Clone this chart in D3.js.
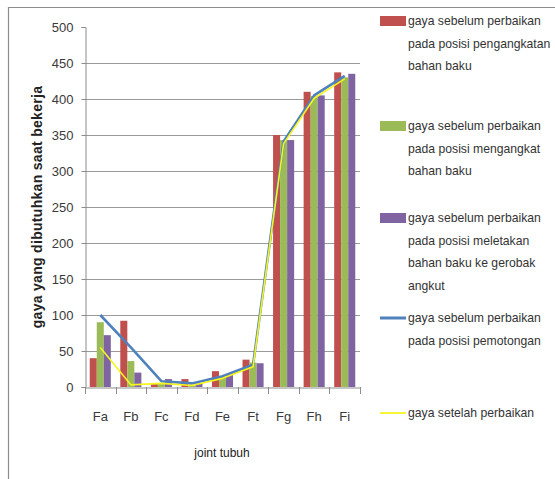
<!DOCTYPE html>
<html>
<head>
<meta charset="utf-8">
<script src="https://cdn.jsdelivr.net/npm/d3@7"></script>
<style>
  html, body { margin: 0; padding: 0; background: #fff; }
  svg { display: block; }
  text { font-family: "Liberation Sans", Arial, sans-serif; }
</style>
</head>
<body>
<svg id="chart" width="555" height="479"></svg>
<script>
const categories = ["Fa", "Fb", "Fc", "Fd", "Fe", "Ft", "Fg", "Fh", "Fi"];
const yTicks = [0, 50, 100, 150, 200, 250, 300, 350, 400, 450, 500];

const barSeriesNames = [
  "gaya sebelum perbaikan pada posisi pengangkatan bahan baku",
  "gaya sebelum perbaikan pada posisi mengangkat bahan baku",
  "gaya sebelum perbaikan pada posisi meletakan bahan baku ke gerobak angkut"
];
const redValues    = [40, 92, 4, 11, 22, 38, 350, 410, 437];
const greenValues  = [90, 36, 5, 2, 14, 34, 343, 404, 430];
const purpleValues = [72, 20, 11, 5, 17, 33, 343, 405, 435];

const lineSeriesNames = [
  "gaya sebelum perbaikan pada posisi pemotongan",
  "gaya setelah perbaikan"
];
const blueValues   = [100, 55, 8, 5, 15, 31, 341, 405, 432];
const yellowValues = [55, 3, 5, 2, 12, 28, 338, 401, 428];

const legendLines = [
  ["gaya sebelum perbaikan", "pada posisi pengangkatan", "bahan baku"],
  ["gaya sebelum perbaikan", "pada posisi mengangkat", "bahan baku"],
  ["gaya sebelum perbaikan", "pada posisi meletakan", "bahan baku ke gerobak", "angkut"],
  ["gaya sebelum perbaikan", "pada posisi pemotongan"],
  ["gaya setelah perbaikan"]
];

const barColors = ["#C0504D", "#9BBB59", "#8064A2"];
const lineColors = ["#4F81BD", "#F5F51E"];

const svg = d3.select("#chart");

// outer frame
svg.append("path")
  .attr("d", "M8.5,479 L8.5,7.5 L555,7.5")
  .attr("fill", "none").attr("stroke", "#8c8c8c").attr("stroke-width", 1.2);

const plot = { left: 85, right: 360, top: 27, bottom: 387 };

const y = d3.scaleLinear().domain([0, 500]).range([plot.bottom, plot.top]);
const x = d3.scaleBand().domain(categories).range([plot.left, plot.right])
  .paddingInner(0.31).paddingOuter(0.155);
const xs = d3.scaleBand().domain([0, 1, 2]).range([0, x.bandwidth()]);

// gridlines
svg.append("g").selectAll("line")
  .data(yTicks.filter(t => t > 0 && t < 500))
  .join("line")
  .attr("x1", plot.left).attr("x2", plot.right)
  .attr("y1", d => Math.round(y(d)) + 0.5).attr("y2", d => Math.round(y(d)) + 0.5)
  .attr("stroke", "#9a9a9a").attr("stroke-width", 1);

// y axis
const yAxis = d3.axisLeft(y).tickValues(yTicks).tickSize(4).tickPadding(8);
const gy = svg.append("g").attr("transform", `translate(${plot.left + 0.5},0)`).call(yAxis);
gy.select(".domain").attr("stroke", "#8c8c8c");
gy.selectAll(".tick line").attr("stroke", "#8c8c8c");
gy.selectAll(".tick text").attr("font-size", 13).attr("fill", "#3a3a3a")
  .style("font-family", '"Liberation Sans", sans-serif');

// bars
const barData = [redValues, greenValues, purpleValues];
barData.forEach((vals, si) => {
  svg.append("g").selectAll("rect")
    .data(categories.map((c, i) => ({ c, v: vals[i] })))
    .join("rect")
    .attr("x", d => x(d.c) + xs(si))
    .attr("width", xs.bandwidth())
    .attr("y", d => y(d.v))
    .attr("height", d => y(0) - y(d.v))
    .attr("fill", barColors[si]);
});

// x axis
const xAxis = d3.axisBottom(x).tickSize(0).tickPadding(24);
const gx = svg.append("g").attr("transform", `translate(0,${plot.bottom + 0.5})`).call(xAxis);
gx.select(".domain").attr("stroke", "#8c8c8c");
gx.selectAll(".tick text").attr("font-size", 13).attr("fill", "#3a3a3a")
  .style("font-family", '"Liberation Sans", sans-serif');
// boundary tick marks
const step = x.step();
const bounds = d3.range(categories.length + 1).map(i => plot.left + i * step);
svg.append("g").selectAll("line").data(bounds).join("line")
  .attr("x1", d => Math.round(d) + 0.5).attr("x2", d => Math.round(d) + 0.5)
  .attr("y1", plot.bottom).attr("y2", plot.bottom + 7)
  .attr("stroke", "#8c8c8c");

// lines
const lineGen = d3.line()
  .x(d => x(d.c) + x.bandwidth() / 2)
  .y(d => y(d.v));
const lineData = [blueValues, yellowValues];
const lineWidths = [2.6, 1.6];
lineData.forEach((vals, si) => {
  svg.append("path")
    .datum(categories.map((c, i) => ({ c, v: vals[i] })))
    .attr("d", lineGen)
    .attr("fill", "none")
    .attr("stroke", lineColors[si])
    .attr("stroke-width", lineWidths[si])
    .attr("stroke-linejoin", "round");
});

// axis titles
svg.append("text")
  .attr("transform", "translate(42,207) rotate(-90)")
  .attr("text-anchor", "middle")
  .attr("font-size", 14).attr("font-weight", "bold").attr("fill", "#222")
  .attr("letter-spacing", 0.3)
  .text("gaya yang dibutuhkan saat bekerja");

svg.append("text")
  .attr("x", 222).attr("y", 457)
  .attr("text-anchor", "middle")
  .attr("font-size", 12).attr("fill", "#222")
  .text("joint tubuh");

// legend
const legendY = [21, 126, 218, 318, 413];
const legendColors = barColors.concat(lineColors);
const lg = svg.append("g");
legendLines.forEach((lines, i) => {
  const cy = legendY[i];
  if (i < 3) {
    lg.append("rect").attr("x", 380).attr("y", cy - 5).attr("width", 26).attr("height", 10)
      .attr("fill", legendColors[i]);
  } else {
    lg.append("line").attr("x1", 380).attr("x2", 406).attr("y1", cy).attr("y2", cy)
      .attr("stroke", legendColors[i]).attr("stroke-width", i === 3 ? 3 : 1.8);
  }
  lines.forEach((t, j) => {
    lg.append("text")
      .attr("x", 408).attr("y", cy + j * 22.5)
      .attr("dy", "0.35em")
      .attr("font-size", 12.2).attr("fill", "#333")
      .text(t);
  });
});
</script>
</body>
</html>
